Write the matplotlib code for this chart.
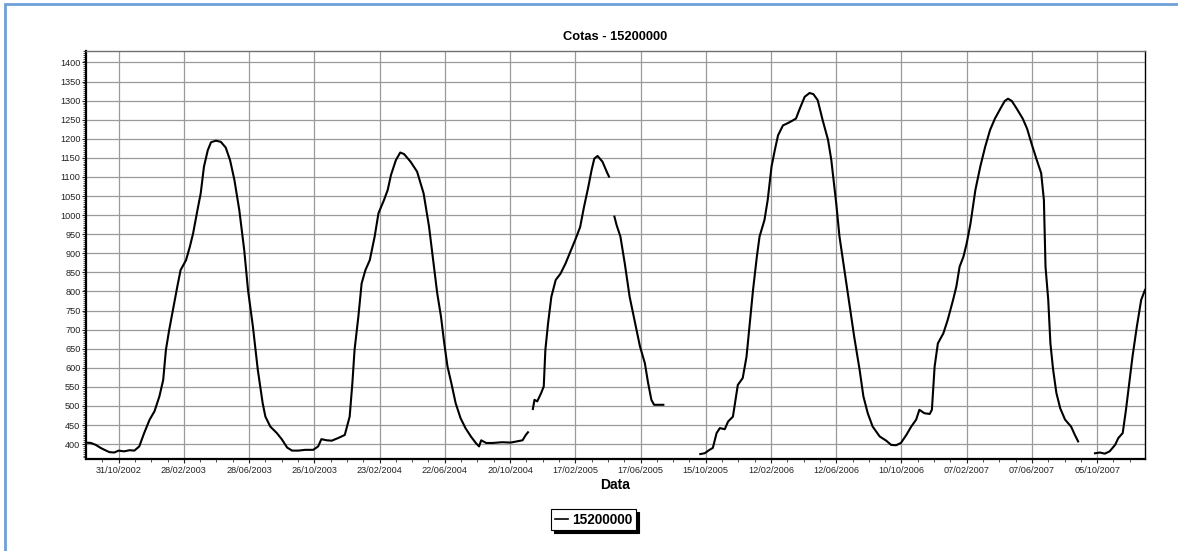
import numpy as np
import pandas as pd
import matplotlib
matplotlib.use("Agg")
import matplotlib.pyplot as plt
import matplotlib.dates as mdates
from matplotlib.patches import Rectangle
from matplotlib.ticker import MultipleLocator, FixedLocator

plt.rcParams['font.family'] = ['Liberation Sans', 'DejaVu Sans']

# ---- data (days since 31/10/2002, cota values); NaN breaks the line ----
base_date = "2002-10-31"
days = [
    -60, -51, -42, -33, -26, -17, -8, 0, 10, 20, 29, 38, 47, 57, 66, 75, 82, 87, 93, 100,
    108, 114, 124, 131, 137, 145, 151, 157, 164, 170, 179, 188, 197, 205, 213, 222, 231, 238,
    247, 256, 265, 270, 279, 291, 300, 310, 319, 331, 343, 358, 367, 373, 383, 392, 404, 416,
    425, 430, 434, 441, 447, 454, 462, 471, 478, 488, 495, 501, 510, 518, 525, 537, 549, 561,
    571, 580, 586, 593, 599, 605, 612, 620, 629, 638, 648, 657, 663, 667, 676, 688, 706, 721,
    743, 749, 753, 757,
    762, 765, 770, 777, 782, 785, 790, 796, 804, 813, 822, 832, 841, 849, 856, 864, 870, 875,
    881, 890, 899, 902, 906,
    912, 916, 923, 931, 940, 950, 959, 968, 974, 980, 985, 1002, 1030,
    1070, 1078, 1087, 1093, 1100, 1106, 1115, 1121, 1130, 1139, 1148, 1155, 1161, 1167, 1174,
    1179, 1188, 1194, 1201, 1207, 1213, 1222, 1231, 1240, 1246, 1253, 1262, 1271, 1278, 1286,
    1295, 1305, 1311, 1320, 1326, 1335, 1344, 1353, 1363, 1370, 1378, 1387, 1400, 1412, 1421,
    1430, 1439, 1449, 1458, 1467, 1473, 1482, 1492, 1496, 1501, 1507, 1517, 1525, 1535, 1541,
    1547, 1554, 1560, 1567, 1576, 1585, 1594, 1603, 1612, 1622, 1630, 1636, 1643, 1652, 1663,
    1671, 1680, 1689, 1697, 1702, 1705, 1710, 1714, 1719, 1725, 1732, 1741, 1752, 1759, 1765,
    1780,
    1796, 1805, 1814, 1823, 1833, 1839, 1847, 1853, 1859, 1865, 1873, 1881, 1888,
]
cotas = [
    404, 403, 398, 390, 385, 379, 378, 383, 381, 384, 383, 394, 429, 464, 486, 525, 568, 647, 699, 752,
    813, 856, 882, 917, 952, 1013, 1057, 1127, 1170, 1191, 1195, 1192, 1177, 1144, 1092, 1013, 909, 804,
    708, 595, 507, 472, 446, 429, 413, 391, 383, 383, 385, 385, 394, 413, 410, 409, 416, 424,
    472, 560, 647, 734, 821, 856, 882, 944, 1005, 1039, 1066, 1105, 1144, 1164, 1160, 1140, 1114, 1057,
    970, 865, 796, 734, 664, 603, 560, 507, 468, 442, 420, 403, 394, 410, 403, 403, 405, 404,
    410, 424, 431, np.nan,
    492, 516, 512, 533, 551, 647, 717, 786, 830, 847, 873, 908, 939, 969, 1021, 1074, 1118, 1148,
    1155, 1140, 1110, 1101, np.nan,
    996, 974, 944, 874, 786, 717, 656, 612, 560, 516, 503, 503, np.nan,
    374, 376, 385, 390, 429, 442, 439, 459, 472, 555, 573, 629, 717, 804, 891,
    944, 987, 1040, 1127, 1170, 1209, 1235, 1241, 1248, 1253, 1279, 1310, 1320, 1317, 1301,
    1249, 1197, 1144, 1031, 944, 856, 769, 682, 595, 525, 481, 446, 420, 409, 398,
    397, 403, 424, 446, 464, 490, 481, 479, 490, 603, 664, 690, 725, 778, 813,
    865, 891, 926, 978, 1066, 1127, 1179, 1223, 1253, 1279, 1299, 1305, 1299, 1279, 1253,
    1227, 1184, 1144, 1110, 1040, 865, 778, 664, 595, 534, 494, 464, 446, 424, 407,
    np.nan,
    376, 378, 375, 381, 398, 416, 429, 490, 560, 629, 708, 778, 804,
]
series_name = "15200000"
title_text = "Cotas - 15200000"
xlabel_text = "Data"
x_tick_start = "2002-10-31"
x_tick_step_days = 120
x_min, x_max = "2002-09-01", "2008-01-01"
y_min, y_max = 361, 1430
y_ticks = list(range(400, 1401, 50))

# ---- figure ----
W, H, DPI = 1178, 551, 100
fig = plt.figure(figsize=(W / DPI, H / DPI), dpi=DPI)
fig.patch.set_facecolor('white')

L, R, T, B = 86, 1145, 51, 459
ax = fig.add_axes([L / W, 1 - B / H, (R - L) / W, (B - T) / H])

dates = pd.Timestamp(base_date) + pd.to_timedelta(days, unit='D')
ax.plot(dates, cotas, color='black', lw=1.5, label=series_name, solid_joinstyle='round')

ax.set_xlim(pd.Timestamp(x_min), pd.Timestamp(x_max))
ax.set_ylim(y_min, y_max)

# x ticks
major_dates = pd.date_range(x_tick_start, x_max, freq=f'{x_tick_step_days}D')
minor_dates = pd.date_range(pd.Timestamp(x_tick_start) - pd.Timedelta(days=30), x_max, freq='30D')
ax.xaxis.set_major_locator(FixedLocator(mdates.date2num(major_dates)))
ax.xaxis.set_minor_locator(FixedLocator(mdates.date2num(minor_dates)))
ax.xaxis.set_major_formatter(mdates.DateFormatter('%d/%m/%Y'))

ax.yaxis.set_major_locator(FixedLocator(y_ticks))
ax.yaxis.set_minor_locator(MultipleLocator(5))

ax.grid(True, which='major', color='#9a9a9a', lw=0.9)
ax.set_axisbelow(True)

ax.tick_params(axis='both', which='major', labelsize=6.6, colors='#222222', length=3, width=0.8, direction='out')
ax.tick_params(axis='x', which='major', pad=2)
ax.tick_params(axis='y', which='major', pad=1)
ax.tick_params(axis='both', which='minor', length=2, width=0.6, colors='#333333', direction='out')

for s in ('left', 'bottom'):
    ax.spines[s].set_color('black')
    ax.spines[s].set_linewidth(1.6)
ax.spines['right'].set_color('black')
ax.spines['right'].set_linewidth(1.0)
ax.spines['top'].set_color('#707070')
ax.spines['top'].set_linewidth(1.0)

fig.text((L + R) / 2 / W, 1 - 37 / H, title_text, ha='center', va='center',
         fontsize=9.3, fontweight='bold', color='black')
fig.text((L + R) / 2 / W, 1 - 485 / H, xlabel_text, ha='center', va='center',
         fontsize=10, fontweight='bold', color='black')

leg = ax.legend(loc='center', bbox_to_anchor=(593.5 / W, 1 - 519.5 / H),
                bbox_transform=fig.transFigure, frameon=True, fancybox=False,
                shadow={'facecolor': 'black', 'edgecolor': 'black', 'alpha': 1.0},
                handlelength=1.0, handletextpad=0.3, borderpad=0.25,
                prop={'weight': 'bold', 'size': 9.8})
leg.get_frame().set_edgecolor('black')
leg.get_frame().set_linewidth(0.8)
for lh in leg.get_lines():
    lh.set_linewidth(1.2)

# outer blue frame
fig.add_artist(Rectangle((5 / W, -0.05), 1.2, 1 - 4.5 / H + 0.05, transform=fig.transFigure,
                         fill=False, edgecolor='#6f9fd8', lw=2.0, clip_on=False))

fig.savefig('out.png', dpi=DPI)
